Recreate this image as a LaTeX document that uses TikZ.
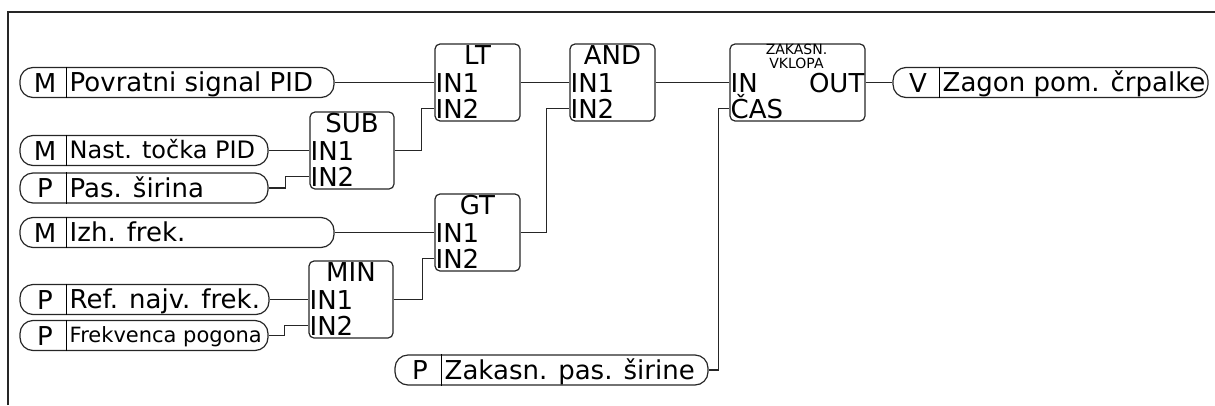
\documentclass[tikz,border=0pt]{standalone}
\usepackage{fontspec}
\setmainfont{DejaVu Sans}
\usetikzlibrary{calc}

\begin{document}
\begin{tikzpicture}[
    x=1pt, y=-1pt,
    wire/.style={line width=1.2pt, draw=black!85},
    pill/.style={draw=black!85, line width=1.2pt, rounded corners=13pt, minimum height=30pt, inner sep=0pt},
    blk/.style={draw=black!85, line width=1.2pt, rounded corners=5pt, minimum height=77pt, inner sep=0pt},
    big/.style={font=\fontsize{26}{30}\selectfont},
    sig/.style={big, anchor=base, inner sep=0pt},
    port/.style={big, anchor=west, inner sep=1pt, text height=19pt, text depth=0pt},
    ttl/.style={big, inner sep=0pt, text height=19pt, text depth=0pt},
    small/.style={font=\fontsize{14}{14}\selectfont, anchor=base, inner sep=0pt},
  ]
  \useasboundingbox (0,0) rectangle (1215,405);

  % === Frame ===
  \draw[wire] (8,405) |- (1215,12);

  % === Signal pills (name/left/right/y/type/size/text) ===
  \foreach \nm/\xa/\xb/\y/\sg/\fs/\txt in {
      pfb/20/334/82.5/M/26/Povratni signal PID,
      pset/20/268/150.5/M/24/Nast. točka PID,
      pbw/20/268/188/P/26/Pas. širina,
      pfo/20/334/232.5/M/26/Izh. frek.,
      pref/20/269/299.5/P/26/Ref. najv. frek.,
      pfd/20/268/335.5/P/21/Frekvenca pogona,
      pdl/395/708/370/P/26/Zakasn. pas. širine,
      pout/893/1208/82.5/V/26/Zagon pom. črpalke} {
    \node[pill, minimum width={(\xb-\xa)*1pt}] (\nm) at ({(\xa+\xb)/2},\y) {};
    \node[sig] (\nm-s) at ({\xa+25},{\y+9.5}) {\sg};
    \node[anchor=base west, inner sep=0pt, font=\fontsize{\fs}{\fs}\selectfont]
      (\nm-t) at ({\xa+49.5},{\y+0.35*\fs}) {\txt};
    \draw[line width=0.9pt] ([xshift=47pt]\nm.north west) -- ([xshift=47pt]\nm.south west);
  }

  % === Function blocks ===
  \node[blk, minimum width=84pt] (sub) at (352,150.5) {};
  \node[blk, minimum width=84pt] (min) at (351,299.5) {};
  \node[blk, minimum width=85pt] (lt) at (477.5,82.5) {};
  \node[blk, minimum width=85pt] (gt) at (477.5,232.5) {};
  \node[blk, minimum width=85pt] (andb) at (612.5,82.5) {};
  \node[blk, minimum width=135pt] (zak) at (797.5,82.5) {};

  % Titles and inputs
  \foreach \b/\t in {sub/SUB, min/MIN, lt/LT, gt/GT, andb/AND} {
    \node[ttl] at ($(\b.north)+(0,12)$) {\t};
    \node[port] (\b-1) at (\b.west) {IN1};
    \node[port] (\b-2) at ($(\b.west)+(0,26)$) {IN2};
  }

  % Delay block
  \node[small] (zak-t1) at ($(zak.north)+(-1,11.5)$) {ZAKASN.};
  \node[small] (zak-t2) at ($(zak.north)+(-1,25)$) {VKLOPA};
  \node[port] (zak-1) at (zak.west) {IN};
  \node[port] (zak-2) at ($(zak.west)+(0,26)$) {ČAS};
  \node[port, anchor=east] (zak-o) at (zak.east) {OUT};

  % === Wires ===
  \draw[wire] (pfb) -- (lt-1);
  \draw[wire] (pset) -- (sub-1);
  \draw[wire] (pbw.east) -- ++(17,0) |- (sub-2.west);
  \draw[wire] (sub.east) -- ++(27,0) |- (lt-2.west);
  \draw[wire] (pfo) -- (gt-1);
  \draw[wire] (pref) -- (min-1);
  \draw[wire] (pfd.east) -- ++(16,0) |- (min-2.west);
  \draw[wire] (min.east) -- ++(29,0) |- (gt-2.west);
  \draw[wire] (lt) -- (andb-1);
  \draw[wire] (gt.east) -- ++(26,0) |- (andb-2.west);
  \draw[wire] (andb) -- (zak-1);
  \draw[wire] (pdl.east) -- ++(10,0) |- (zak-2.west);
  \draw[wire] (zak.east) -- (pout);

\end{tikzpicture}
\end{document}
